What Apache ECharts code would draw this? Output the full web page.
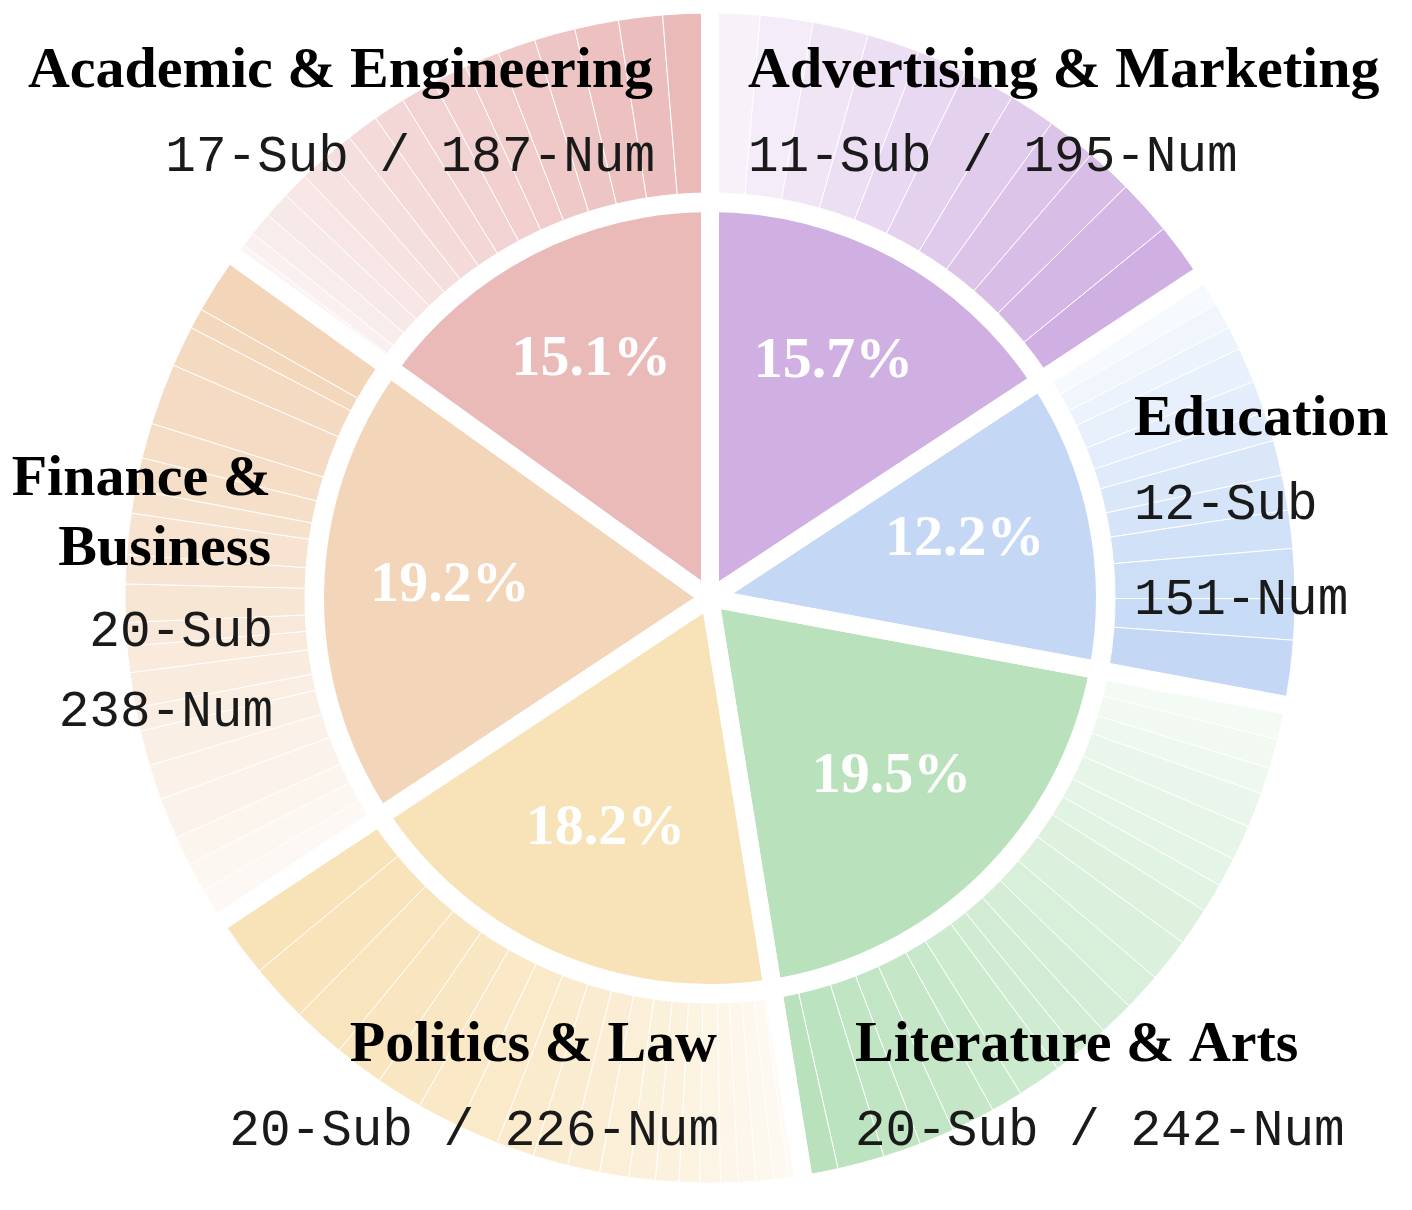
<!DOCTYPE html>
<html>
<head>
<meta charset="utf-8">
<script src="https://cdn.jsdelivr.net/npm/echarts@6/dist/echarts.min.js"></script>
<style>
html,body{margin:0;padding:0;background:#fff;}
#main{width:1412px;height:1210px;}
</style>
</head>
<body>
<div id="main"></div>
<script>
// categories, clockwise from 12 o'clock
var categories = ['Advertising & Marketing', 'Education', 'Literature & Arts', 'Politics & Law', 'Finance & Business', 'Academic & Engineering'];
var subCounts = [11, 12, 20, 20, 20, 17];
var numCounts = [195, 151, 242, 226, 238, 187];
var colors = ['#D0B0E2', '#C4D8F6', '#B9E2BC', '#F8E2B7', '#F3D6BA', '#EABAB9'];

// sub-category sizes (outer ring), clockwise inside each category
var subAdvertising = [17, 18, 19, 18, 17, 18, 16, 17, 16, 19, 20];
var subEducation = [11, 9, 8, 12, 11, 10, 12, 12, 13, 17, 14, 22];
var subLiterature = [12, 10, 9, 12, 12, 10, 10, 13, 15, 13, 12, 11, 9, 15, 11, 15, 12, 13, 16, 12];
var subPolitics = [5, 5, 6, 6, 6, 7, 7, 8, 9, 10, 11, 12, 13, 14, 15, 16, 17, 18, 20, 21];
var subFinance = [12, 10, 10, 14, 12, 12, 8, 12, 9, 8, 13, 10, 14, 8, 11, 12, 21, 14, 7, 21];
var subAcademic = [5, 5, 8, 9, 9, 10, 10, 11, 11, 12, 12, 12, 13, 14, 15, 15, 16];
var subLists = [subAdvertising, subEducation, subLiterature, subPolitics, subFinance, subAcademic];

var CENTER = [710, 598];
var SERIF = '"Liberation Serif", "Times New Roman", serif';
var MONO = '"Liberation Mono", "Courier New", monospace';

// text placement for the outside captions
var labelLayout = [
    {x: 748, align: 'left', nameY: [72], subY: [157]},
    {x: 1134, align: 'left', nameY: [420], subY: [505, 600]},
    {x: 855, align: 'left', nameY: [1046], subY: [1131]},
    {x: 717, align: 'right', nameY: [1046], subY: [1131]},
    {x: 271, align: 'right', nameY: [480, 550], subY: [632, 712]},
    {x: 653, align: 'right', nameY: [72], subY: [157]}
];

function rgba(hex, a) {
    var r = parseInt(hex.substr(1, 2), 16);
    var g = parseInt(hex.substr(3, 2), 16);
    var b = parseInt(hex.substr(5, 2), 16);
    return 'rgba(' + r + ',' + g + ',' + b + ',' + a.toFixed(3) + ')';
}

var total = 0;
for (var i = 0; i < numCounts.length; i++) total += numCounts[i];

var innerData = [], gapData = [], ringData = [];
for (var i = 0; i < categories.length; i++) {
    innerData.push({name: categories[i], value: numCounts[i], itemStyle: {color: colors[i]}});
    gapData.push({name: categories[i], value: numCounts[i]});
    var list = subLists[i];
    for (var j = 0; j < list.length; j++) {
        var a = 0.16 + 0.84 * j / (list.length - 1);   // lighter -> darker, clockwise
        ringData.push({name: categories[i] + '-' + (j + 1), value: list[j], itemStyle: {color: rgba(colors[i], a)}});
    }
}

// captions outside the rings
var graphics = [];
for (var i = 0; i < categories.length; i++) {
    var lay = labelLayout[i];
    var nameLines = lay.nameY.length > 1 ? categories[i].replace(' & ', ' &\n').split('\n') : [categories[i]];
    var subLines = lay.subY.length > 1 ? [subCounts[i] + '-Sub', numCounts[i] + '-Num'] : [subCounts[i] + '-Sub / ' + numCounts[i] + '-Num'];
    var shift = lay.align == 'right' ? 2 : 0;
    nameLines.forEach(function (t, k) {
        graphics.push({
            type: 'text', z: 100, silent: true,
            style: {text: t, x: lay.x, y: lay.nameY[k], fill: '#000',
                font: 'bold 58px ' + SERIF, align: lay.align, textAlign: lay.align,
                verticalAlign: 'middle', textVerticalAlign: 'middle'}
        });
    });
    subLines.forEach(function (t, k) {
        graphics.push({
            type: 'text', z: 100, silent: true,
            style: {text: t, x: lay.x + shift, y: lay.subY[k], fill: '#1a1a1a',
                font: '51px ' + MONO, align: lay.align, textAlign: lay.align,
                verticalAlign: 'middle', textVerticalAlign: 'middle'}
        });
    });
}

var myChart = echarts.init(document.getElementById('main'), null, {renderer: 'canvas'});
var option = {
    backgroundColor: '#fff',
    animation: false,
    graphic: graphics,
    series: [
        {   // inner pie
            type: 'pie', z: 1, silent: true,
            center: CENTER, radius: [0, 386],
            startAngle: 90, clockwise: true,
            label: {show: false}, labelLine: {show: false},
            data: innerData
        },
        {   // outer ring of sub-categories
            type: 'pie', z: 1, silent: true,
            center: CENTER, radius: [405, 585],
            startAngle: 90, clockwise: true,
            itemStyle: {borderColor: '#fff', borderWidth: 1},
            label: {show: false}, labelLine: {show: false},
            data: ringData
        },
        {   // white gaps between categories
            type: 'pie', z: 3, silent: true,
            center: CENTER, radius: [0, 604],
            startAngle: 90, clockwise: true,
            itemStyle: {color: 'rgba(0,0,0,0)', borderColor: '#fff', borderWidth: 18},
            label: {show: false}, labelLine: {show: false},
            data: gapData
        },
        {   // percentage labels
            type: 'pie', z: 4, silent: true,
            center: CENTER, radius: [130, 384],
            startAngle: 90, clockwise: true,
            itemStyle: {color: 'rgba(0,0,0,0)'},
            labelLine: {show: false},
            label: {
                show: true, position: 'inside', rotate: 0, offset: [0, -7],
                color: '#fff', fontFamily: SERIF, fontWeight: 'bold', fontSize: 58,
                formatter: function (p) {
                    return (p.value / total * 100).toFixed(1) + '%';
                }
            },
            data: gapData
        }
    ]
};
myChart.setOption(option);
</script>
</body>
</html>
